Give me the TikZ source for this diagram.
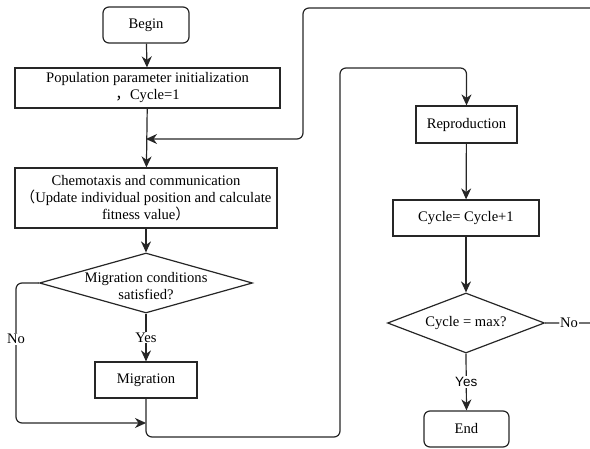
\documentclass[tikz,border=0pt]{standalone}
\usepackage{fontspec}
\setmainfont{Liberation Serif}
\newfontfamily\cjkfont{Noto Sans CJK SC}
\newfontfamily\labelsans{Liberation Sans}
\usetikzlibrary{shapes.geometric,arrows.meta}

\begin{document}
\begin{tikzpicture}[x=1pt,y=-1pt,
  every node/.style={font=\fontsize{14.6}{17}\selectfont},
  line/.style={line width=1.2pt, draw=black!85},
  arrow/.style={line, -{Stealth[length=11pt,width=10pt,inset=3.5pt]}},
  loop/.style={arrow, rounded corners=6pt},
  stepbox/.style={line, draw, rectangle, align=center, inner sep=0pt},
  terminal/.style={stepbox, rounded corners=6pt},
  decision/.style={line, draw, diamond, inner sep=0pt},
  lbl/.style={fill=white, inner sep=1pt},
]
\useasboundingbox (0,0) rectangle (590,449);

% left column
\node[terminal, minimum width=86pt, minimum height=36pt] (begin) at (146,25) {Begin};
\node[stepbox, minimum width=265pt, minimum height=40pt] (init) at (147.5,88)
  {Population parameter initialization\\{\cjkfont ，}Cycle=1};
\node[stepbox, minimum width=262pt, minimum height=60pt] (chemo) at (146,198)
  {Chemotaxis and communication\\{\cjkfont （}Update individual position and calculate\\fitness value{\cjkfont ）}};
\node[decision, minimum width=213pt, minimum height=60pt] (dec1) at (146,283) {};
\node[align=center, inner sep=0pt] (dec1text) at (146,286) {Migration conditions\\satisfied?};
\node[stepbox, minimum width=102pt, minimum height=36pt] (mig) at (146,380) {Migration};

% right column
\node[stepbox, minimum width=101pt, minimum height=37pt] (repro) at (466.5,124.5) {Reproduction};
\node[stepbox, minimum width=146pt, minimum height=36pt] (cyc) at (466,218) {Cycle= Cycle+1};
\node[decision, minimum width=157pt, minimum height=60pt] (dec2) at (466,323) {};
\node[inner sep=0pt] (dec2text) at (dec2.center) {Cycle = max?};
\node[terminal, minimum width=85pt, minimum height=36pt] (end) at (466.5,429) {End};

% junction points on the main trunk
\coordinate (join1) at (146,139);
\coordinate (join2) at (146,423);

% straight flow
\draw[arrow] (begin) -- (init);
\draw[arrow] (init) -- (chemo);
\draw[arrow] (chemo) -- (dec1);
\draw[arrow] (dec1.south) -- node[lbl, pos=0.5] {Yes} (mig.north);
\draw[arrow] (repro) -- (cyc);
\draw[arrow] (cyc) -- (dec2);
\draw[arrow] (dec2.south) -- node[lbl, pos=0.5, font=\labelsans\fontsize{13.5}{16}\selectfont] {Yes} (end.north);

% migration conditions not satisfied
\draw[loop] (dec1.west) -- (16,283) -- node[lbl, pos=0.4] {No} (16,423) -- (join2);

% after migration, on to reproduction
\draw[loop] (mig.south) -- (146,437) -- (340,437) -- (340,68) -- (466.5,68) -- (repro.north);

% cycle not finished: back to chemotaxis
\draw[loop] (dec2.east) -- node[lbl, pos=0.37] {No} (610,323) -- (610,8) -- (303,8) -- (303,139) -- (join1);
\end{tikzpicture}
\end{document}
